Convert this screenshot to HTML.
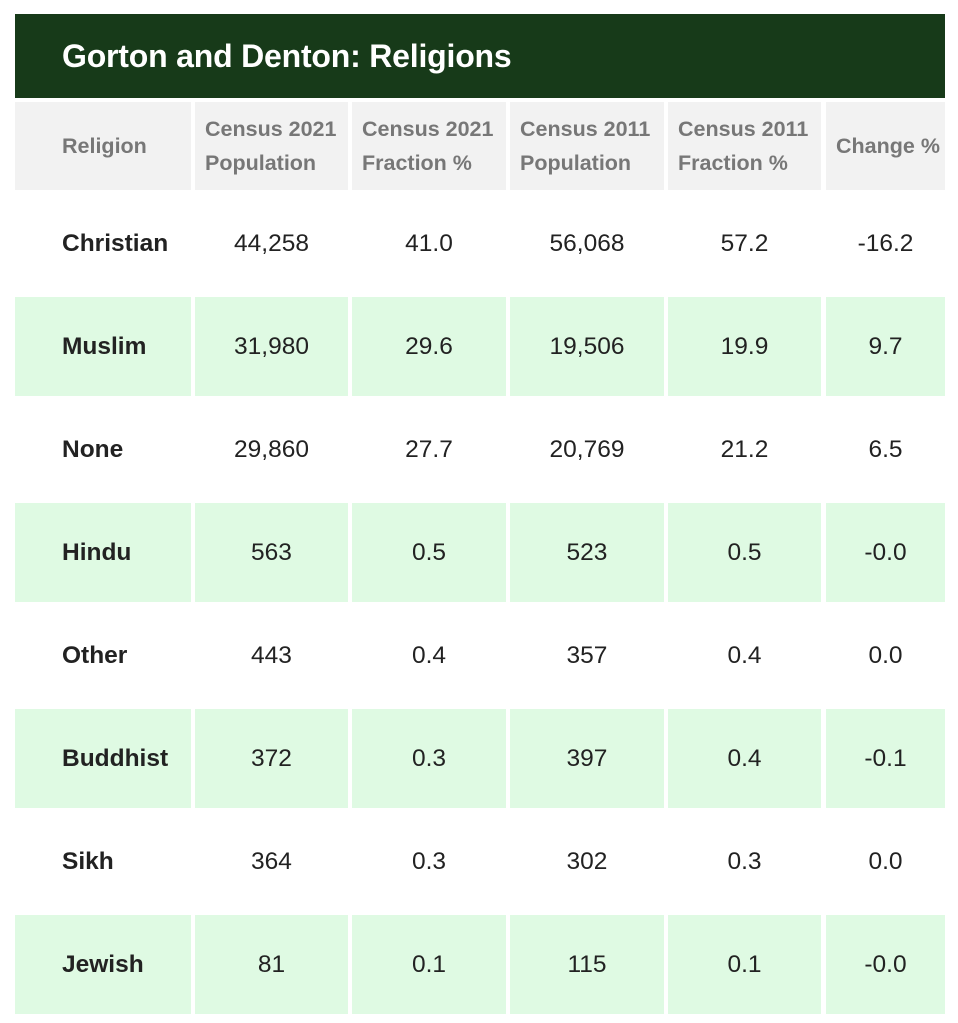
<!DOCTYPE html>
<html><head><meta charset="utf-8"><style>
body{margin:0;width:958px;height:1023px;background:#fff;position:relative;font-family:"Liberation Sans",sans-serif;overflow:hidden}
.t{position:absolute;left:15px;top:14px;width:930px;height:84px;background:#173a19;color:#fff;font-weight:bold;font-size:32px;line-height:84px;padding-left:47px;box-sizing:border-box;letter-spacing:-0.2px}
.row{position:absolute;left:0;width:958px;height:99px}
.c{position:absolute;top:0;height:100%;display:flex;align-items:center;box-sizing:border-box}
.h .c{background:#f2f2f2;color:#777;font-weight:bold;font-size:21.5px;line-height:34px;padding-left:10px}
.r .c{font-size:24.5px;color:#222;justify-content:center}
.g .c{background:#dffae3}
.r .c.l{font-weight:bold;justify-content:flex-start;padding-left:47px}
.h .c.l{padding-left:47px}
.c1{left:15px;width:176px}.c2{left:195px;width:153px}.c3{left:352px;width:154px}.c4{left:510px;width:154px}.c5{left:668px;width:153px}.c6{left:826px;width:119px}
</style></head><body>
<div class="t">Gorton and Denton: Religions</div>
<div class="row h" style="top:102px;height:88px"><div class="c c1 l">Religion</div><div class="c c2">Census 2021<br>Population</div><div class="c c3">Census 2021<br>Fraction %</div><div class="c c4">Census 2011<br>Population</div><div class="c c5">Census 2011<br>Fraction %</div><div class="c c6">Change %</div></div>
<div class="row r" style="top:194px"><div class="c c1 l">Christian</div><div class="c c2">44,258</div><div class="c c3">41.0</div><div class="c c4">56,068</div><div class="c c5">57.2</div><div class="c c6">-16.2</div></div>
<div class="row r g" style="top:297px"><div class="c c1 l">Muslim</div><div class="c c2">31,980</div><div class="c c3">29.6</div><div class="c c4">19,506</div><div class="c c5">19.9</div><div class="c c6">9.7</div></div>
<div class="row r" style="top:400px"><div class="c c1 l">None</div><div class="c c2">29,860</div><div class="c c3">27.7</div><div class="c c4">20,769</div><div class="c c5">21.2</div><div class="c c6">6.5</div></div>
<div class="row r g" style="top:503px"><div class="c c1 l">Hindu</div><div class="c c2">563</div><div class="c c3">0.5</div><div class="c c4">523</div><div class="c c5">0.5</div><div class="c c6">-0.0</div></div>
<div class="row r" style="top:606px"><div class="c c1 l">Other</div><div class="c c2">443</div><div class="c c3">0.4</div><div class="c c4">357</div><div class="c c5">0.4</div><div class="c c6">0.0</div></div>
<div class="row r g" style="top:709px"><div class="c c1 l">Buddhist</div><div class="c c2">372</div><div class="c c3">0.3</div><div class="c c4">397</div><div class="c c5">0.4</div><div class="c c6">-0.1</div></div>
<div class="row r" style="top:812px"><div class="c c1 l">Sikh</div><div class="c c2">364</div><div class="c c3">0.3</div><div class="c c4">302</div><div class="c c5">0.3</div><div class="c c6">0.0</div></div>
<div class="row r g" style="top:915px"><div class="c c1 l">Jewish</div><div class="c c2">81</div><div class="c c3">0.1</div><div class="c c4">115</div><div class="c c5">0.1</div><div class="c c6">-0.0</div></div>
</body></html>
